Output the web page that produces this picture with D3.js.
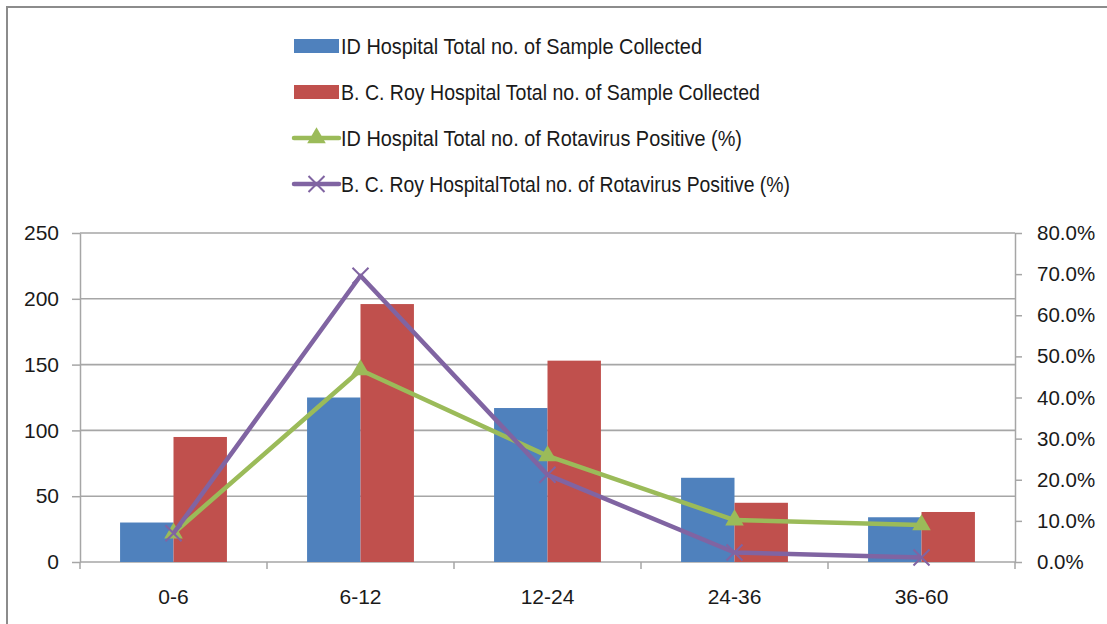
<!DOCTYPE html>
<html>
<head>
<meta charset="utf-8">
<script src="https://cdn.jsdelivr.net/npm/d3@7"></script>
<style>
  html, body { margin: 0; padding: 0; background: #fff; }
  svg { display: block; }
  text { font-family: "Liberation Sans", Arial, sans-serif; fill: #1a1a1a; }
</style>
</head>
<body>
<svg id="chart" width="1107" height="624"></svg>
<script>
// Age groups (months)
const categories = ["0-6", "6-12", "12-24", "24-36", "36-60"];

// Samples collected (left axis)
const idSamples = [30, 125, 117, 64, 34];
const bcRoySamples = [95, 196, 153, 45, 38];

// Rotavirus positive share (right axis)
const idPositive = [0.07, 0.467, 0.258, 0.102, 0.09];
const bcRoyPositive = [0.07, 0.696, 0.212, 0.023, 0.011];

// Axis ticks
const leftTicks = [0, 50, 100, 150, 200, 250];
const rightTicks = [0, 0.1, 0.2, 0.3, 0.4, 0.5, 0.6, 0.7, 0.8];

const legendLabels = [
  "ID Hospital Total no. of Sample Collected",
  "B. C. Roy Hospital Total no. of Sample Collected",
  "ID Hospital Total no. of Rotavirus Positive (%)",
  "B. C. Roy HospitalTotal no. of Rotavirus Positive (%)"
];

const colors = { blue: "#4f81bd", red: "#c0504d", green: "#9bbb59", purple: "#8064a2", grid: "#a6a6a6" };

const svg = d3.select("#chart");
const plot = { left: 80, right: 1015, top: 233, bottom: 562 };

// Frame
svg.append("path")
  .attr("d", "M7,624 V7 H1107")
  .attr("fill", "none").attr("stroke", "#8c8c8c").attr("stroke-width", 2);

const x = d3.scaleBand().domain(categories).range([plot.left, plot.right]).paddingInner(0).paddingOuter(0);
const barW = x.bandwidth() / 3.5;
const yL = d3.scaleLinear().domain([0, 250]).range([plot.bottom, plot.top]);
const yR = d3.scaleLinear().domain([0, 0.8]).range([plot.bottom, plot.top]);

// Horizontal gridlines
svg.append("g").selectAll("line").data(leftTicks.slice(1)).join("line")
  .attr("x1", plot.left).attr("x2", plot.right)
  .attr("y1", d => yL(d)).attr("y2", d => yL(d))
  .attr("stroke", colors.grid).attr("stroke-width", 1.6);

// Left axis
const leftAxis = svg.append("g").attr("transform", `translate(${plot.left},0)`)
  .call(d3.axisLeft(yL).tickValues(leftTicks).tickSize(8).tickPadding(13).tickSizeOuter(0));
leftAxis.select(".domain").attr("stroke", colors.grid).attr("stroke-width", 1.5);
leftAxis.selectAll(".tick line").attr("stroke", colors.grid).attr("stroke-width", 1.5);
leftAxis.selectAll(".tick text").attr("font-size", 21).attr("fill", "#1a1a1a")
  .attr("font-family", "Liberation Sans, Arial, sans-serif");

// Right axis
const rightAxis = svg.append("g").attr("transform", `translate(${plot.right},0)`)
  .call(d3.axisRight(yR).tickValues(rightTicks).tickFormat(d3.format(".1%")).tickSize(7).tickPadding(15).tickSizeOuter(0));
rightAxis.select(".domain").attr("stroke", colors.grid).attr("stroke-width", 1.5);
rightAxis.selectAll(".tick line").attr("stroke", colors.grid).attr("stroke-width", 1.5);
rightAxis.selectAll(".tick text").attr("font-size", 20.5).attr("fill", "#1a1a1a")
  .attr("font-family", "Liberation Sans, Arial, sans-serif");

// Bottom axis with ticks at category boundaries
const bottom = svg.append("g").attr("transform", `translate(0,${plot.bottom})`);
bottom.append("line").attr("x1", plot.left).attr("x2", plot.right)
  .attr("stroke", colors.grid).attr("stroke-width", 1.5);
const bounds = categories.map(c => x(c)).concat([x(categories[categories.length - 1]) + x.bandwidth()]);
bottom.selectAll("line.tk").data(bounds).join("line").attr("class", "tk")
  .attr("x1", d => d).attr("x2", d => d).attr("y1", 0).attr("y2", 7)
  .attr("stroke", colors.grid).attr("stroke-width", 1.5);
bottom.selectAll("text").data(categories).join("text")
  .attr("x", d => x(d) + x.bandwidth() / 2).attr("y", 42)
  .attr("text-anchor", "middle").attr("font-size", 21).text(d => d);

// Bars
const cx = c => x(c) + x.bandwidth() / 2;
svg.append("g").selectAll("rect").data(categories).join("rect")
  .attr("x", c => cx(c) - barW).attr("width", barW)
  .attr("y", (c, i) => yL(idSamples[i])).attr("height", (c, i) => plot.bottom - yL(idSamples[i]))
  .attr("fill", colors.blue);
svg.append("g").selectAll("rect").data(categories).join("rect")
  .attr("x", c => cx(c)).attr("width", barW)
  .attr("y", (c, i) => yL(bcRoySamples[i])).attr("height", (c, i) => plot.bottom - yL(bcRoySamples[i]))
  .attr("fill", colors.red);

// Lines
const lineGen = vals => d3.line().x((d, i) => cx(categories[i])).y(d => yR(d))(vals);
const triangle = d3.symbol().type(d3.symbolTriangle).size(150);

svg.append("path").attr("d", lineGen(idPositive))
  .attr("fill", "none").attr("stroke", colors.green).attr("stroke-width", 4.5).attr("stroke-linejoin", "round");
svg.append("g").selectAll("path").data(idPositive).join("path")
  .attr("d", triangle)
  .attr("transform", (d, i) => `translate(${cx(categories[i])},${yR(d)})`)
  .attr("fill", colors.green);

svg.append("path").attr("d", lineGen(bcRoyPositive))
  .attr("fill", "none").attr("stroke", colors.purple).attr("stroke-width", 4.5).attr("stroke-linejoin", "round");
const crossPath = "M-8,-8L8,8M-8,8L8,-8";
svg.append("g").selectAll("path").data(bcRoyPositive).join("path")
  .attr("d", crossPath)
  .attr("transform", (d, i) => `translate(${cx(categories[i])},${yR(d)})`)
  .attr("fill", "none").attr("stroke", colors.purple).attr("stroke-width", 2);

// Legend
const legend = svg.append("g");
const legendY = [46, 92, 138, 184];
const legendWidths = [361, 419, 401, 449];
const swX0 = 294, swX1 = 339, textX = 341;

legend.append("rect").attr("x", swX0).attr("y", legendY[0] - 7).attr("width", swX1 - swX0).attr("height", 14).attr("fill", colors.blue);
legend.append("rect").attr("x", swX0).attr("y", legendY[1] - 7).attr("width", swX1 - swX0).attr("height", 14).attr("fill", colors.red);
legend.append("line").attr("x1", swX0).attr("x2", swX1).attr("y1", legendY[2]).attr("y2", legendY[2])
  .attr("stroke", colors.green).attr("stroke-width", 4.5).attr("stroke-linecap", "round");
legend.append("path").attr("d", triangle).attr("fill", colors.green)
  .attr("transform", `translate(${(swX0 + swX1) / 2},${legendY[2]})`);
legend.append("line").attr("x1", swX0).attr("x2", swX1).attr("y1", legendY[3]).attr("y2", legendY[3])
  .attr("stroke", colors.purple).attr("stroke-width", 4.5).attr("stroke-linecap", "round");
legend.append("path").attr("d", crossPath).attr("fill", "none").attr("stroke", colors.purple).attr("stroke-width", 2)
  .attr("transform", `translate(${(swX0 + swX1) / 2},${legendY[3]})`);

legend.selectAll("text").data(legendLabels).join("text")
  .attr("x", textX).attr("y", (d, i) => legendY[i] + 8)
  .attr("font-size", 22.5)
  .attr("textLength", (d, i) => legendWidths[i])
  .attr("lengthAdjust", "spacingAndGlyphs")
  .text(d => d);
</script>
</body>
</html>
